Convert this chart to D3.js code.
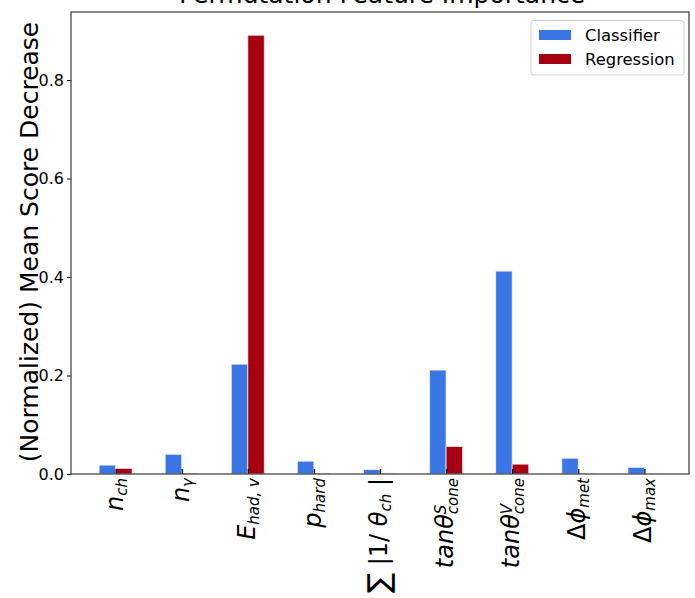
<!DOCTYPE html>
<html>
<head>
<meta charset="utf-8">
<script src="https://cdn.jsdelivr.net/npm/d3@7"></script>
<style>
  html, body { margin: 0; padding: 0; background: #fff; }
  svg { display: block; font-family: "DejaVu Sans", sans-serif; }
</style>
</head>
<body>
<svg id="chart" width="695" height="598"></svg>
<script>
// ---- data ----
const categories = ["n_ch", "n_gamma", "E_had_v", "p_hard", "sum_inv_theta_ch", "tan_theta_S_cone", "tan_theta_V_cone", "dphi_met", "dphi_max"];
const classifierValues = [0.018, 0.040, 0.223, 0.026, 0.009, 0.211, 0.412, 0.032, 0.0135];
const regressionValues = [0.0115, 0.002, 0.891, 0.0015, 0.0005, 0.056, 0.020, 0.0003, 0.0002];
const seriesNames = ["Classifier", "Regression"];
const yTicks = [0.0, 0.2, 0.4, 0.6, 0.8];
// tick label pieces: [text, kind]
const tickLabels = [
  [["n", "i"], ["ch", "sub"]],
  [["n", "i"], ["γ", "sub"]],
  [["E", "i"], ["had, v", "sub"]],
  [["p", "i"], ["hard", "sub"]],
  [["∑", "big"], [" |1/ ", "r"], ["θ", "i"], ["ch", "sub"], [" |", "r"]],
  [["tanθ", "i"], ["S", "sup"], ["cone", "subAfterSup"]],
  [["tanθ", "i"], ["V", "sup"], ["cone", "subAfterSup"]],
  [["Δ", "r"], ["ϕ", "i"], ["met", "sub"]],
  [["Δ", "r"], ["ϕ", "i"], ["max", "sub"]]
];
const colors = ["#3a75e5", "#a50012"];

(function () {
// ---- layout ----
const svg = d3.select("#chart");
const mLeft = 71, mRight = 689, mTop = 12, mBottom = 474;
const barW = 0.25;
const x = d3.scaleLinear().domain([-0.675, categories.length - 1 + 0.675]).range([mLeft, mRight]);
const y = d3.scaleLinear().domain([0, 0.9382]).range([mBottom, mTop]);

// bars
const series = [classifierValues, regressionValues];
series.forEach((vals, s) => {
  svg.append("g").selectAll("rect").data(vals).join("rect")
    .attr("x", (d, i) => x(i + (s === 0 ? -barW : 0)))
    .attr("width", x(barW) - x(0))
    .attr("y", d => y(d))
    .attr("height", d => y(0) - y(d))
    .attr("fill", colors[s])
    .attr("stroke", "#ffffff")
    .attr("stroke-opacity", 0.7)
    .attr("stroke-width", 1);
});

// y axis
const yAxis = d3.axisLeft(y).tickValues(yTicks).tickFormat(d3.format(".1f")).tickSize(4).tickPadding(3);
const gy = svg.append("g").attr("transform", `translate(${mLeft},0)`).call(yAxis);
gy.select(".domain").remove();
gy.selectAll(".tick line").attr("stroke", "#000").attr("stroke-width", 1);
gy.selectAll(".tick text").attr("font-size", 16).attr("fill", "#000").attr("font-family", "DejaVu Sans");

// x ticks (inward)
const xAxis = d3.axisBottom(x).tickValues(d3.range(categories.length)).tickSize(-5).tickFormat("");
const gx = svg.append("g").attr("transform", `translate(0,${mBottom})`).call(xAxis);
gx.select(".domain").remove();
gx.selectAll(".tick line").attr("stroke", "#000").attr("stroke-width", 1.2);

// frame
svg.append("rect").attr("x", mLeft).attr("y", mTop).attr("width", mRight - mLeft).attr("height", mBottom - mTop)
  .attr("fill", "none").attr("stroke", "#3a3a3a").attr("stroke-width", 1.2);

// x tick labels (rotated, math-like)
const mainSize = 24, smallSize = 15, bigSize = 30;
tickLabels.forEach((parts, i) => {
  const g = svg.append("g");
  const t = g.append("text").attr("text-anchor", "end").attr("font-size", mainSize).attr("fill", "#000");
  let offset = 0, supEl = null, bigEl = null;
  parts.forEach(([txt, kind]) => {
    const ts = t.append("tspan").text(txt);
    let target = 0;
    if (kind === "i") ts.attr("font-style", "oblique");
    if (kind === "big") bigEl = ts;
    if (kind === "sub") { ts.attr("font-size", smallSize).attr("font-style", "oblique"); target = 4; }
    if (kind === "sup") { ts.attr("font-size", smallSize).attr("font-style", "oblique"); target = -7; supEl = ts; }
    if (kind === "subAfterSup") {
      ts.attr("font-size", smallSize).attr("font-style", "oblique");
      target = 5;
      ts.attr("dx", -supEl.node().getComputedTextLength());
    }
    if (target !== offset) ts.attr("dy", target - offset);
    offset = target;
  });
  // centre on the tick using the regular-size layout
  const bb = t.node().getBBox();
  if (bigEl) {
    const shift = 0.27 * (bigSize - mainSize);
    bigEl.attr("font-size", bigSize).attr("dy", shift);
    const nextEl = d3.select(bigEl.node().nextSibling);
    nextEl.attr("dy", (+nextEl.attr("dy") || 0) - shift);
  }
  g.attr("transform", `translate(${x(i)},${mBottom + 4}) rotate(-90) translate(0,${-(bb.y + bb.height / 2)})`);
});

// y label
svg.append("text")
  .attr("transform", `translate(38,${(mTop + mBottom) / 2 - 1}) rotate(-90)`)
  .attr("text-anchor", "middle").attr("font-size", 25).attr("fill", "#000")
  .text("(Normalized) Mean Score Decrease");

// title
svg.append("text").attr("x", 382).attr("y", 3).attr("text-anchor", "middle")
  .attr("font-size", 25).attr("fill", "#000").text("Permutation Feature Importance");

// legend
const lg = svg.append("g");
lg.append("rect").attr("x", 531).attr("y", 20.5).attr("width", 153).attr("height", 54.5)
  .attr("rx", 3).attr("fill", "#fff").attr("fill-opacity", 0.8).attr("stroke", "#d0d0d0").attr("stroke-width", 1);
seriesNames.forEach((name, s) => {
  const cy = 35 + s * 24;
  lg.append("rect").attr("x", 539).attr("y", cy - 5).attr("width", 32).attr("height", 10).attr("fill", colors[s]);
  lg.append("text").attr("x", 585).attr("y", cy).attr("dy", "0.35em").attr("font-size", 16.4).attr("fill", "#000").text(name);
});
})();
</script>
</body>
</html>
